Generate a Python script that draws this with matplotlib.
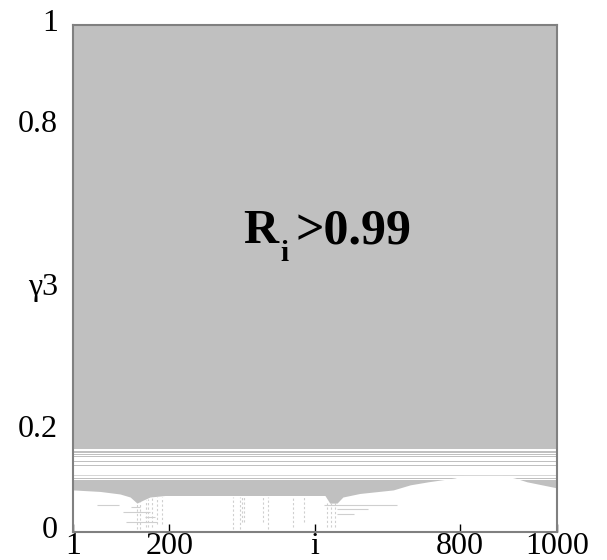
import matplotlib.pyplot as plt
from matplotlib.transforms import ScaledTranslation

plt.rcParams['font.family'] = ['Liberation Serif', 'DejaVu Serif']

# lower boundary of the gray (R_i > 0.99) region
bound_i = [1, 57, 98, 119, 133, 146, 160, 191, 521, 531, 546, 558, 593,
           662, 697, 734, 789, 806, 888, 913, 938, 1000]
bound_g = [0.083, 0.080, 0.075, 0.069, 0.057, 0.063, 0.069, 0.072, 0.072,
           0.057, 0.057, 0.069, 0.076, 0.083, 0.093, 0.099, 0.1065, 0.1115,
           0.1115, 0.1065, 0.099, 0.087]

# white stripes inside the band 0.10 .. 0.165 (lo, hi)
stripes = [(0.1605, 0.1630), (0.1540, 0.1565), (0.1495, 0.1520),
           (0.1400, 0.1470), (0.1330, 0.1375), (0.1125, 0.1300),
           (0.1070, 0.1100), (0.1020, 0.1050)]
faint_line = (0.1100, 0.1125)

# sparse dotted vertical traces below the boundary
dot_i = [133, 139, 152, 156, 164, 174, 185, 331, 346, 350, 354, 393, 403,
         455, 478, 525, 533, 541]
dot_top = [0.057, 0.060, 0.064, 0.066, 0.068, 0.069, 0.070, 0.070, 0.070,
           0.070, 0.070, 0.070, 0.070, 0.070, 0.070, 0.057, 0.057, 0.060]
dot_bot = [0.005, 0.005, 0.010, 0.010, 0.010, 0.015, 0.015, 0.005, 0.005,
           0.020, 0.020, 0.020, 0.005, 0.010, 0.020, 0.010, 0.010, 0.010]

# short thin horizontal traces (y, i_start, i_end)
hl_y = [0.053, 0.053, 0.050, 0.040, 0.030, 0.020, 0.045, 0.035]
hl_a = [50, 520, 120, 105, 150, 110, 545, 545]
hl_b = [95, 670, 140, 160, 170, 175, 610, 580]

xtick_pos = [1, 200, 500, 800, 1000]
xtick_lab = ['1', '200', 'i', '800', '1000']
ytick_pos = [0, 0.2, 0.48, 0.8, 1]
ytick_lab = ['0', '0.2', 'γ3', '0.8', '1']

gray = '#c0c0c0'

fig = plt.figure(figsize=(6.07, 5.6), dpi=100)
ax = fig.add_axes([73 / 607, 1 - 532 / 560, 484 / 607, 507 / 560])
ax.set_facecolor(gray)

for lo, hi in stripes:
    ax.axhspan(lo, hi, color='white', lw=0)
ax.axhspan(faint_line[0], faint_line[1], color='#d6d6d6', lw=0)

ax.fill_between(bound_i, 0, bound_g, color='white', lw=0)

ax.vlines(dot_i, dot_bot, dot_top, colors='#cfcfcf', lw=0.8,
          linestyles=(0, (2, 2)))
ax.hlines(hl_y, hl_a, hl_b, colors='#cfcfcf', lw=0.8)

ax.set_xlim(1, 1000)
ax.set_ylim(0, 1)
ax.set_xticks(xtick_pos)
ax.set_xticklabels(xtick_lab)
ax.set_yticks(ytick_pos)
ax.set_yticklabels(ytick_lab)
ax.tick_params(axis='x', direction='in', length=6, width=1, color='black',
               labelsize=23, pad=0)
ax.tick_params(axis='y', length=0, labelsize=23, pad=11)
shift = ScaledTranslation(0, 5 / 100, fig.dpi_scale_trans)
for lab in ax.get_yticklabels():
    lab.set_transform(lab.get_transform() + shift)
for s in ax.spines.values():
    s.set_color('#808080')
    s.set_linewidth(1.5)

fig.text(243 / 607, 1 - 243 / 560, 'R', fontsize=35, fontweight='bold',
         ha='left', va='baseline')
fig.text(280 / 607, 1 - 261 / 560, 'i', fontsize=21, fontweight='bold',
         ha='left', va='baseline')
fig.text(296 / 607, 1 - 243 / 560, '>0.99', fontsize=36, fontweight='bold',
         ha='left', va='baseline')

fig.savefig('out.png', dpi=100)
